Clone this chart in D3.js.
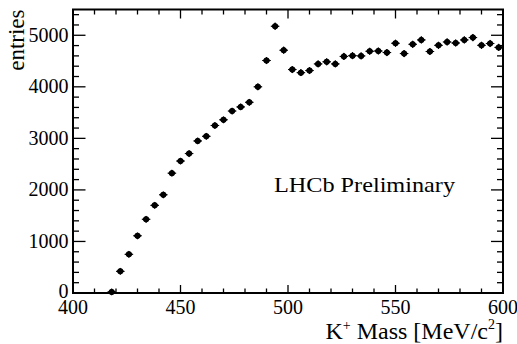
<!DOCTYPE html>
<html><head><meta charset="utf-8">
<script src="https://cdn.jsdelivr.net/npm/d3@7"></script>
<style>body{margin:0;background:#fff}svg{display:block}</style>
</head><body><svg id="c" width="517" height="344"></svg>
<script>
const mass = [418,422,426,430,434,438,442,446,450,454,458,462,466,470,474,478,482,486,490,494,498,502,506,510,514,518,522,526,530,534,538,542,546,550,554,558,562,566,570,574,578,582,586,590,594,598];
const entries = [20,420,750,1110,1430,1700,1905,2325,2560,2705,2950,3040,3250,3360,3530,3610,3700,4000,4510,5175,4710,4335,4275,4315,4445,4485,4445,4590,4605,4600,4690,4695,4665,4845,4645,4825,4910,4685,4805,4870,4850,4910,4955,4805,4840,4765];
const xTicks = [400,450,500,550,600];
const yTicks = [0,1000,2000,3000,4000,5000];
const binWidth = 4;

const FONT = "Liberation Serif";
const svg = d3.select("#c");
const L=73, R=503, T=9.5, B=293;
const x = d3.scaleLinear().domain([400,600]).range([L,R]);
const y = d3.scaleLinear().domain([0,5500]).range([B,T]);

const g = svg.append("g");
const xMinor = d3.range(400,601,10);
const yMinor = d3.range(0,5501,200);
xMinor.forEach(v=>{
  const maj = v%50===0;
  g.append("line").attr("x1",x(v)).attr("x2",x(v)).attr("y1",B).attr("y2",B-(maj?8:4.5)).attr("stroke","#000").attr("stroke-width",1.3);
  g.append("line").attr("x1",x(v)).attr("x2",x(v)).attr("y1",T).attr("y2",T+(maj?9:5)).attr("stroke","#000").attr("stroke-width",1.3);
});
yMinor.forEach(v=>{
  const maj = v%1000===0;
  g.append("line").attr("y1",y(v)).attr("y2",y(v)).attr("x1",L).attr("x2",L+(maj?12.5:6)).attr("stroke","#000").attr("stroke-width",1.3);
  g.append("line").attr("y1",y(v)).attr("y2",y(v)).attr("x1",R).attr("x2",R-(maj?12:6)).attr("stroke","#000").attr("stroke-width",1.3);
});
g.append("rect").attr("x",L).attr("y",T).attr("width",R-L).attr("height",B-T).attr("fill","none").attr("stroke","#000").attr("stroke-width",2);

xTicks.forEach(v=>{
  svg.append("text").style("font-family",FONT).attr("x",x(v)).attr("y",313.5).attr("text-anchor","middle").attr("font-size",20).text(v);
});
yTicks.forEach(v=>{
  svg.append("text").style("font-family",FONT).attr("x",68.5).attr("y",y(v)+6.5 - (v===0?1.5:0)).attr("text-anchor","end").attr("font-size",20).text(v);
});

const pts = svg.append("g");
mass.forEach((m,i)=>{
  const cx = x(m), cy = y(entries[i]);
  pts.append("line").attr("x1",x(m-binWidth/2)).attr("x2",x(m+binWidth/2)).attr("y1",cy).attr("y2",cy).attr("stroke","#000").attr("stroke-width",1);
  pts.append("line").attr("x1",cx).attr("x2",cx).attr("y1",y(entries[i]+Math.sqrt(entries[i]))).attr("y2",y(Math.max(0,entries[i]-Math.sqrt(entries[i])))).attr("stroke","#000").attr("stroke-width",1);
  pts.append("path").attr("d",`M${cx-4},${cy}L${cx},${cy-3.6}L${cx+4},${cy}L${cx},${cy+3.6}Z`).attr("fill","#000");
  pts.append("circle").attr("cx",cx).attr("cy",cy).attr("r",3).attr("fill","#000");
});

svg.append("text").style("font-family",FONT).attr("transform","translate(24,9.5) rotate(-90)").attr("text-anchor","end").attr("font-size",23).text("entries");
const xt = svg.append("text").style("font-family",FONT).attr("x",503).attr("y",339).attr("text-anchor","end").attr("font-size",24);
xt.append("tspan").text("K");
xt.append("tspan").attr("font-size",14).attr("dy",-9).text("+");
xt.append("tspan").attr("dy",9).text(" Mass [MeV/c");
xt.append("tspan").attr("font-size",14).attr("dy",-10).text("2");
xt.append("tspan").attr("dy",10).text("]");
svg.append("text").style("font-family",FONT).attr("x",274).attr("y",191.5).attr("font-size",21.5)
  .attr("textLength",181).attr("lengthAdjust","spacingAndGlyphs").text("LHCb Preliminary");
</script></body></html>
